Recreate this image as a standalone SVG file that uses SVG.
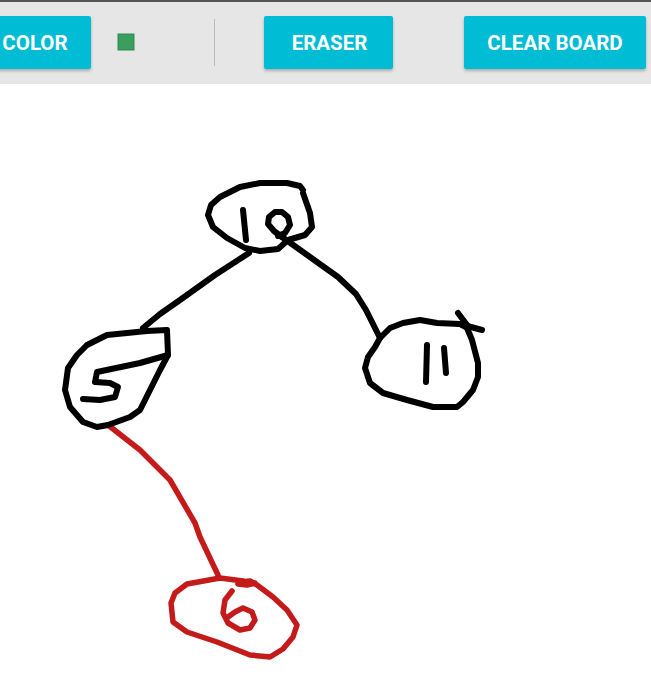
<svg xmlns="http://www.w3.org/2000/svg" width="651" height="690" viewBox="0 0 651 690">
<defs>
<filter id="sh" x="-10%" y="-20%" width="120%" height="150%"><feDropShadow dx="0" dy="2" stdDeviation="1.5" flood-color="#000" flood-opacity="0.25"/></filter>
</defs>
<style>
.btn{fill:#00bcd4;filter:url(#sh)}
.bt{font-family:Roboto,"Liberation Sans",sans-serif;font-weight:bold;font-size:20.5px;fill:#fff;text-anchor:middle}
.k{fill:none;stroke:#000;stroke-width:6;stroke-linejoin:round;stroke-linecap:round}
.r{fill:none;stroke:#c41a1a;stroke-width:5.5;stroke-linejoin:round;stroke-linecap:round}
</style>
<rect width="651" height="690" fill="#fff"/>
<g id="toolbar">
<rect x="0" y="0" width="651" height="84" fill="#e6e6e6"/>
<rect x="0" y="0" width="651" height="2" fill="#555"/>
<rect class="btn" x="-6" y="16" width="97" height="53" rx="2"/>
<text class="bt" x="35" y="50">COLOR</text>
<rect x="118" y="34" width="16" height="16" fill="#3a9e5e" stroke="#2e8a50" stroke-width="1"/>
<line x1="214.5" y1="19" x2="214.5" y2="66" stroke="#bbb" stroke-width="1"/>
<rect class="btn" x="264" y="16" width="129" height="53" rx="2"/>
<text class="bt" x="329.5" y="50">ERASER</text>
<rect class="btn" x="464" y="16" width="182" height="53" rx="2"/>
<text class="bt" x="555" y="50">CLEAR BOARD</text>
</g>
<g id="connectors">
<polyline class="k" points="249,253 215,275 180,300 160,314 143,328"/>
<polyline class="k" points="282,237 310,257 338,277 356,294 366,310 380,338"/>
<polyline class="r" points="108,425 140,450 170,480 195,523 200,537 218,575"/>
</g>
<g id="node-10">
<polyline class="k" points="303,190 300,186 287,183 260,183 240,187 220,197 211,205 208,215 213,227 227,238 245,248 260,251 278,249 288,240 305,235 312,227 310,213 303,193"/>
<polyline class="k" points="243,210 246,240"/>
<polyline class="k" points="282,237 274,231 268,224 269,217 275,212 282,212 288,217 290,225 285,233 278,236"/>
</g>
<g id="node-5">
<polyline class="k" points="87,345 107,335 147,331 167,330 168,355 160,370 150,390 140,410 130,417 108,425 97,427 83,422 70,407 65,390 68,368 77,355 87,345"/>
<polyline class="k" points="168,355 140,363 97,372 95,382 110,383 118,387 115,397 100,400 83,399"/>
</g>
<g id="node-11">
<polyline class="k" points="380,338 390,328 403,323 420,320 437,323 460,324 467,328 472,340 478,363 478,377 473,390 463,402 457,407 433,407 407,400 383,393 370,383 365,368 368,357 375,347 380,338"/>
<polyline class="k" points="458,313 467,325"/>
<polyline class="k" points="460,324 482,330"/>
<polyline class="k" points="427,345 426,382"/>
<polyline class="k" points="444,348 446,373"/>
</g>
<g id="node-6">
<polyline class="r" points="243,581 220,578 187,584 175,593 171,603 173,622 187,632 217,642 250,655 270,657 283,649 293,637 297,625 287,610 273,597 257,585 250,581 240,582 238,584 247,585 255,583"/>
<polyline class="r" points="232,591 225,600 223,613 228,623 240,630 250,628 255,620 252,612 243,608 235,612 228,617"/>
</g>
</svg>
